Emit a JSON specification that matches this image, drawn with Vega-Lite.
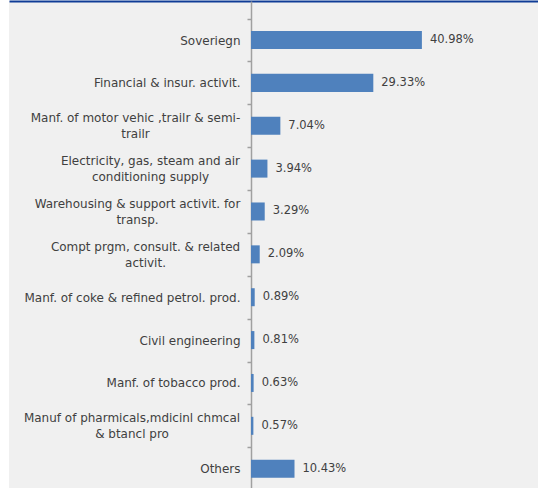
{
  "$schema": "https://vega.github.io/schema/vega-lite/v6.json",
  "autosize": "none",
  "width": 529,
  "height": 489.2,
  "padding": {"left": 9, "top": 1, "right": 0, "bottom": 0},
  "background": "#ffffff",
  "config": {
    "view": {"fill": "#f0f0f0", "stroke": null},
    "font": "DejaVu Sans"
  },
  "data": {
    "values": [
      {"cat": "Soveriegn", "value": 0.4098},
      {"cat": "Financial & insur. activit.", "value": 0.2933},
      {"cat": "Manf. of motor vehic ,trailr & semi-|trailr", "value": 0.0704},
      {"cat": "Electricity, gas, steam and air|conditioning supply", "value": 0.0394},
      {"cat": "Warehousing & support activit. for|transp.", "value": 0.0329},
      {"cat": "Compt prgm, consult. & related|activit.", "value": 0.0209},
      {"cat": "Manf. of coke & refined petrol. prod.", "value": 0.0089},
      {"cat": "Civil engineering", "value": 0.0081},
      {"cat": "Manf. of tobacco prod.", "value": 0.0063},
      {"cat": "Manuf of pharmicals,mdicinl chmcal|& btancl pro", "value": 0.0057},
      {"cat": "Others", "value": 0.1043}
    ]
  },
  "encoding": {
    "y": {
      "field": "cat",
      "type": "nominal",
      "sort": null,
      "scale": {"paddingInner": 0.58, "paddingOuter": 0.4957, "align": 0.706},
      "axis": {
        "title": null,
        "offset": -242,
        "domainColor": "#a0a0a0",
        "domainWidth": 1.5,
        "tickOffset": -21.45,
        "tickColor": "#a0a0a0",
        "tickWidth": 1.5,
        "tickSize": 4,
        "labelFontSize": 12,
        "labelColor": "#404040",
        "labelLineHeight": 16,
        "labelLimit": 400,
        "labelExpr": "isValid(datum.value) ? split(datum.value, '|') : ''",
        "labelAlign": {
          "condition": {"test": "isValid(datum.value) && test(/\\|/, datum.value)", "value": "center"},
          "value": "right"
        },
        "labelOffset": {
          "condition": {"test": "isValid(datum.value) && test(/\\|/, datum.value)", "value": 13.45},
          "value": 21.45
        },
        "labelPadding": {
          "condition": [
            {"test": "datum.value === 'Manf. of motor vehic ,trailr & semi-|trailr'", "value": 112},
            {"test": "datum.value === 'Electricity, gas, steam and air|conditioning supply'", "value": 97},
            {"test": "datum.value === 'Warehousing & support activit. for|transp.'", "value": 110},
            {"test": "datum.value === 'Compt prgm, consult. & related|activit.'", "value": 102},
            {"test": "datum.value === 'Manuf of pharmicals,mdicinl chmcal|& btancl pro'", "value": 115.5}
          ],
          "value": 7
        }
      }
    },
    "x": {
      "field": "value",
      "type": "quantitative",
      "scale": {"domain": [-0.5803, 0.6882], "nice": false, "zero": false},
      "axis": {
        "orient": "top",
        "title": null,
        "labels": false,
        "ticks": false,
        "grid": false,
        "domainColor": "#0f3c96",
        "domainWidth": 2
      }
    }
  },
  "layer": [
    {
      "mark": {"type": "bar", "color": "#4f81bd"},
      "encoding": {"x2": {"datum": 0}}
    },
    {
      "mark": {"type": "text", "align": "left", "baseline": "middle", "dx": 8, "fontSize": 11.5, "color": "#404040"},
      "encoding": {"text": {"field": "value", "type": "quantitative", "format": ".2%"}}
    }
  ]
}
